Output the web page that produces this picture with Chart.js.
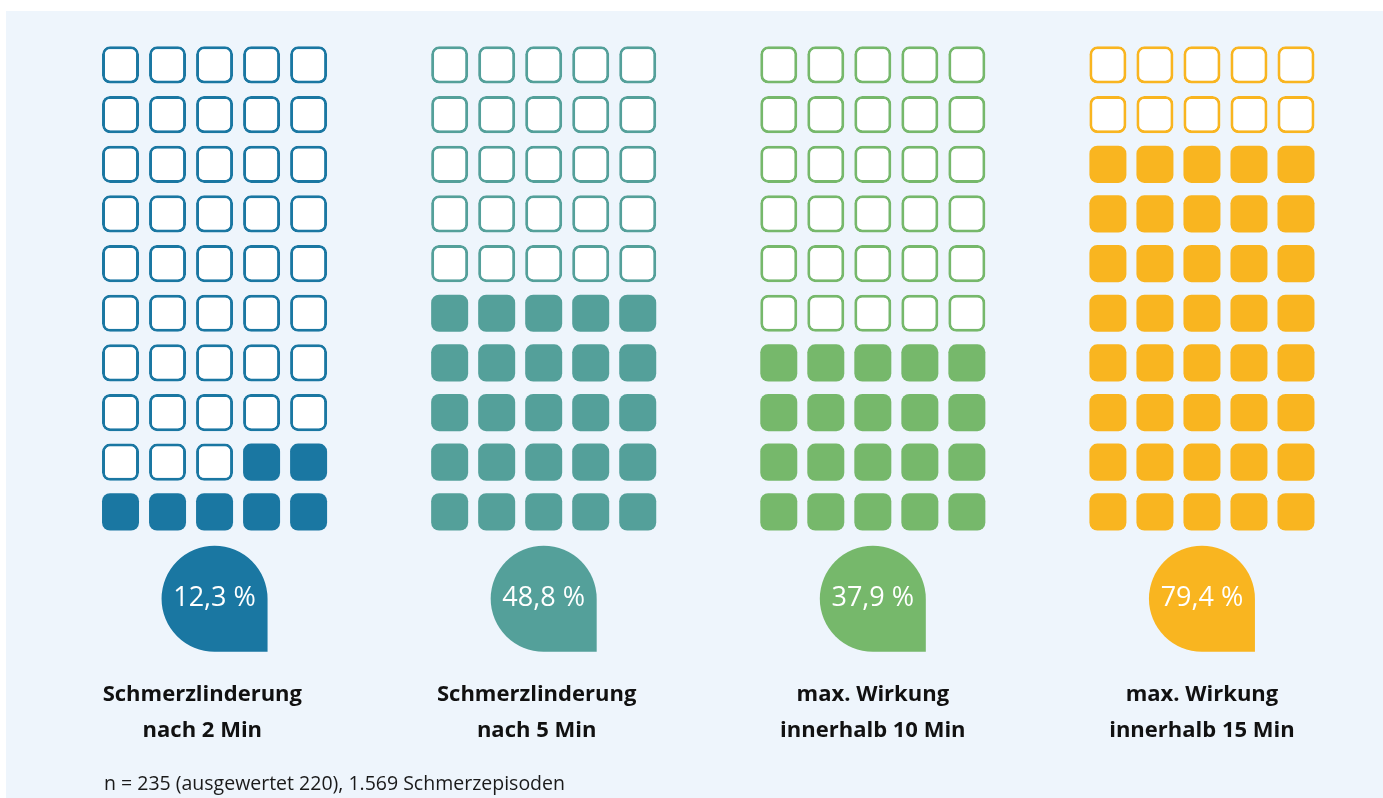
<!DOCTYPE html>
<html><head><meta charset="utf-8">
<script src="https://cdn.jsdelivr.net/npm/chart.js@4.4.1/dist/chart.umd.min.js"></script>
<style>
html,body{margin:0;padding:0;background:#fff;width:1383px;height:798px;overflow:hidden}
#panel{position:absolute;left:6px;top:11px;width:1377px;height:787px;background:#eef5fc}
#wrap{position:absolute;left:0;top:0;width:1383px;height:798px}
#note{position:absolute;left:104px;top:769px;font:19.5px "Open Sans",sans-serif;color:#1a1a1a;white-space:nowrap}
</style></head><body>
<div id="panel"></div>
<div id="wrap"><canvas id="c" width="1383" height="798"></canvas></div>
<div id="note">n = 235 (ausgewertet 220), 1.569 Schmerzepisoden</div>
<script>
// ---- data ----
const categories = [
  ["Schmerzlinderung", "nach 2 Min"],
  ["Schmerzlinderung", "nach 5 Min"],
  ["max. Wirkung", "innerhalb 10 Min"],
  ["max. Wirkung", "innerhalb 15 Min"]
];
const percentValues = [12.3, 48.8, 37.9, 79.4];
const filledCells = [7, 25, 20, 40];   // of 50 cells per waffle
const colors = ["#1a77a2", "#54a09a", "#76b86b", "#f9b520"];

// ---- layout constants ----
const COLS = 5, ROWS = 10, GROUP_STEP = 7;
const CELL_HALF = 0.375, DROP_ROW = -1.75, DROP_HALF = 1.067;
const LABEL_ROW = -3.68, LABEL_STEP = 0.73;
const LABEL_DX = [-0.26, -0.15, 0, 0];

const datasets = [];
categories.forEach((cat, g) => {
  const filled = [], empty = [];
  for (let r = 0; r < ROWS; r++) {
    for (let c = 0; c < COLS; c++) {
      const order = r * COLS + (COLS - 1 - c);
      const pt = { x: g * GROUP_STEP + c, y: [r - CELL_HALF, r + CELL_HALF] };
      (order < filledCells[g] ? filled : empty).push(pt);
    }
  }
  datasets.push({ data: filled, backgroundColor: colors[g], borderWidth: 0, borderRadius: 8,
    barThickness: 37, borderSkipped: false, clip: false, inflateAmount: 0 });
  datasets.push({ data: empty, backgroundColor: "#ffffff", borderColor: colors[g], borderWidth: 3, borderRadius: 8,
    barThickness: 37, borderSkipped: false, clip: false, inflateAmount: 0 });
});
datasets.push({
  data: categories.map((_, g) => ({ x: g * GROUP_STEP + 2, y: [DROP_ROW - DROP_HALF, DROP_ROW + DROP_HALF] })),
  backgroundColor: colors, borderWidth: 0, barThickness: 106, borderSkipped: false, clip: false, inflateAmount: 0,
  borderRadius: { topLeft: 53, topRight: 53, bottomLeft: 53, bottomRight: 0 }
});

const textPlugin = {
  id: "texts",
  afterDatasetsDraw(chart) {
    const { ctx, scales: { x, y } } = chart;
    ctx.save();
    ctx.textAlign = "center";
    ctx.textBaseline = "middle";
    categories.forEach((cat, g) => {
      const cx = x.getPixelForValue(g * GROUP_STEP + 2);
      ctx.fillStyle = "#ffffff";
      ctx.font = '27px "Open Sans", sans-serif';
      ctx.fillText(percentValues[g].toFixed(1).replace(".", ",") + " %", cx, y.getPixelForValue(DROP_ROW));
      ctx.fillStyle = "#111111";
      ctx.font = 'bold 22px "Open Sans", sans-serif';
      const lx = x.getPixelForValue(g * GROUP_STEP + 2 + LABEL_DX[g]);
      cat.forEach((line, i) => ctx.fillText(line, lx, y.getPixelForValue(LABEL_ROW - i * LABEL_STEP)));
    });
    ctx.restore();
  }
};

new Chart(document.getElementById("c"), {
  type: "bar",
  data: { datasets },
  options: {
    responsive: false,
    animation: false,
    datasets: { bar: { grouped: false } },
    layout: { padding: { left: 73.5, right: 40, top: 15.3, bottom: 13 } },
    plugins: { legend: { display: false }, tooltip: { enabled: false } },
    scales: {
      x: { type: "linear", min: -1, max: 26, offset: false, display: false },
      y: { type: "linear", min: -5.5, max: 10, display: false }
    }
  },
  plugins: [textPlugin]
});
</script>
</body></html>
